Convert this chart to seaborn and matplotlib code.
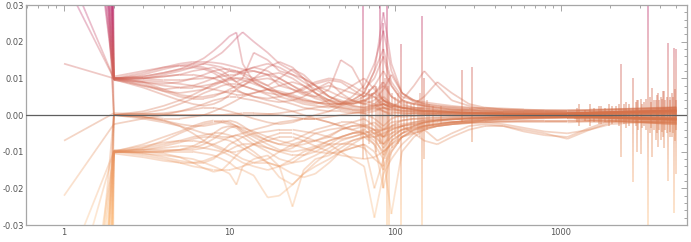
import numpy as np
import matplotlib
matplotlib.use("Agg")
import matplotlib.pyplot as plt
from matplotlib.collections import LineCollection
from matplotlib.colors import Normalize
import matplotlib.ticker as mticker
import seaborn as sns

# ---------------- data (values in units of 1e-3) ----------------
x_grid = [1, 2, 3, 4, 5, 6, 7, 8, 9, 10,
          11, 12, 14, 17, 20, 24, 28, 33, 40, 47,
          55, 65, 75, 85, 95, 110, 130, 150, 180, 220,
          280, 350, 450, 600, 800, 1100, 1500, 2000, 3000, 5000]

line_a1 = [2000, 10, 10.5, 11.5, 12.5, 14, 15.5, 17.5, 19.5, 21.5,
           22.5, 14, 9, 7, 6, 5, 4, 3.5, 3, 3,
           3.5, 5, 8, 4, 2.5, 2, 1.5, 1.2, 1, 0.8,
           0.6, 0.5, 0.4, 0.3, 0.3, 0.3, 0.4, 0.6, 0.8, 1.0]
line_a2 = [150, 9.5, 10, 11, 12, 13, 14, 15.5, 17, 19,
           21, 22.6, 20, 17, 14, 12, 10, 8, 6.5, 5,
           4, 3, 2.5, 3, 2, 1.5, 1.2, 1, 0.8, 0.7,
           0.5, 0.5, 0.4, 0.4, 0.3, 0.3, 0.5, 0.7, 0.9, 1.2]
line_a3 = [37, 10, 11.5, 13, 14, 14.5, 14.5, 14.3, 14, 13.5,
           13, 12.5, 12, 11, 10, 8, 6, 4.5, 3.5, 3,
           3, 4, 6, 4, 2.5, 2, 1.5, 1.2, 1, 0.8,
           0.6, 0.5, 0.5, 0.4, 0.4, 0.5, 0.6, 0.8, 1, 1.5]
line_a4 = [600, 9.8, 11, 12.5, 13.5, 14, 14, 13.5, 13, 12,
           11.5, 12, 13, 14, 13, 11, 9, 7, 5, 3.5,
           3, 3.5, 6, 9, 5, 3, 2, 1.5, 1.2, 1,
           0.8, 0.6, 0.5, 0.5, 0.4, 0.4, 0.5, 0.6, 0.8, 1]
line_a5 = [300, 10, 10, 10.5, 11, 12, 12.5, 13, 12, 10.5,
           9, 10, 17, 15, 12, 11, 10, 8, 5, 3.5,
           2.5, 2, 3, 5, 3, 2, 1.5, 1, 1, 0.8,
           0.6, 0.5, 0.5, 0.4, 0.4, 0.4, 0.5, 0.6, 0.8, 1]
line_a6 = [14, 10, 10, 9.5, 9.5, 9.8, 10, 10, 10.5, 11,
           11, 11.5, 12, 11, 8, 7, 6, 7, 9, 6,
           4, 3, 4, 7, 11, 6, 3.5, 2.5, 2, 1.5,
           1.2, 1, 0.8, 0.7, 0.6, 0.5, 0.6, 0.8, 1, 1.2]
line_a7 = [1000, 9.5, 9, 8.5, 9, 10, 11, 12, 12.5, 12.5,
           12, 11.5, 10, 8, 10, 12.5, 11, 8, 5, 4,
           3, 4, 5, 2, 1.5, 1.2, 1, 1, 0.8, 0.7,
           0.6, 0.5, 0.4, 0.4, 0.4, 0.4, 0.5, 0.7, 0.9, 1.2]
line_a8 = [42, 10, 8, 7, 7.5, 8, 9, 10, 11, 12,
           12, 11, 9, 7, 5, 4, 3, 2.5, 2, 3,
           5, 8, 14, 23, 12, 6, 4, 3, 2.5, 2,
           1.5, 1.2, 1, 0.8, 0.7, 0.6, 0.6, 0.8, 1, 1.3]
line_a9 = [200, 10, 8.5, 6.5, 5, 4.5, 4.5, 5, 6, 7,
           8, 9, 10, 11, 11.5, 10, 8, 6, 4, 3,
           4, 6, 5, 3, 2, 4, 8, 12, 8, 4,
           2.5, 1.5, 1.2, 1, 0.8, 0.6, 0.6, 0.8, 1, 1.2]
line_a10 = [450, 9.7, 7.5, 5.5, 4, 3, 2.5, 3, 4, 5.5,
            7, 8, 9.5, 10, 9, 7, 5.5, 5, 7, 15,
            13, 7, 10, 16, 8, 4, 3, 2.5, 2, 1.5,
            1.2, 1, 0.8, 0.7, 0.6, 0.5, 0.6, 0.7, 0.9, 1.1]
line_a11 = [120, 10.2, 9, 7, 5.5, 5, 5, 5.5, 6, 6.5,
            6.5, 6, 5, 4, 3.5, 4, 5, 7, 8, 7,
            6, 5, 8, 12, 8, 4, 3, 5, 9, 6,
            3, 2, 1.5, 1.2, 1, 0.8, 0.7, 0.8, 1, 1.3]
line_a12 = [800, 10, 9.5, 9, 8.5, 8, 7.5, 7, 6.5, 6,
            5.5, 5.5, 6, 7, 8, 9, 8, 6, 4, 2.5,
            2, 1.5, 2, 3, 2, 1, 1, 0.8, 0.7, 0.6,
            0.5, 0.4, 0.3, 0.3, 0.3, 0.3, 0.4, 0.5, 0.7, 0.9]
line_a13 = [250, 9.8, 10, 10.5, 11, 11, 10.5, 10, 9, 8,
            7.5, 8, 10, 13, 14.5, 13, 10, 6, 3, 2,
            1.5, 1.5, 2.5, 4, 3, 2, 1.5, 1, 1, 0.8,
            0.6, 0.5, 0.4, 0.4, 0.3, 0.3, 0.4, 0.6, 0.8, 1]

line_b1 = [-7, 0.5, 0.3, 0.2, 0, 0, 0, 0, 0, 0.2,
           0.3, 0.5, 0.5, 0.3, 0, -0.5, -1, -1, -0.5, 0,
           0.5, 1, 2, 1, 0, -0.5, -0.3, 0, 0.2, 0.2,
           0.1, 0.1, 0, 0, 0, 0, 0.1, 0.2, 0.3, 0.5]
line_b2 = [350, 0, 0, 0, 0, 0, 0, 0, 0, 0,
           0, 0, 0, 0.2, 0.5, 1, 1.5, 2, 2.5, 2,
           1.5, 1, 1.5, 2, 1, 0.5, 0.3, 0.2, 0.2, 0.1,
           0.1, 0.1, 0, 0, 0, 0, 0, 0.1, 0.2, 0.3]
line_b3 = [-300, 0, 0.5, 1.5, 3, 4.5, 6, 7, 8, 8.5,
           8.5, 8, 7, 5.5, 4, 3, 2, 1.5, 1, 1,
           0.5, 0.5, -1, -3, -1, 0, 0.5, 0.5, 0.4, 0.3,
           0.2, 0.2, 0.1, 0.1, 0.1, 0.1, 0.2, 0.3, 0.5, 0.7]
line_b4 = [-22, -2.5, -1, 0, 1, 2, 3, 4, 4.5, 5,
           5, 4.5, 4, 3, 2, 1, 0, -1, -2, -3,
           -2, -1, -3, -6, -3, -1.5, -1, -0.8, -0.6, -0.5,
           -0.4, -0.3, -0.3, -0.2, -0.2, -0.2, -0.3, -0.4, -0.6, -0.8]
line_b5 = [700, 0, -1, -2, -3, -4, -5, -5.5, -6, -6,
           -5.5, -5, -4, -3, -2, -1.5, -1, -1, -2, -3,
           -4, -3, -2, -4, -2, -1.5, -1, -1, -0.8, -0.6,
           -0.5, -0.4, -0.3, -0.3, -0.3, -0.3, -0.4, -0.5, -0.7, -0.9]
line_b6 = [-150, 0, -0.5, -1.5, -3, -5, -7, -8.5, -9.5, -10,
           -10, -9.5, -8, -6, -5, -5, -6, -7, -6, -4,
           -3, -2.5, -4, -8, -5, -3, -2.5, -2, -1.5, -1.2,
           -1, -0.8, -0.6, -0.5, -0.5, -0.5, -0.6, -0.7, -0.9, -1.2]
line_b7 = [-900, 0, 0.2, 0.5, 1, 1.5, 2, 2, 1.5, 1,
           0.5, 0, -1, -2, -2.5, -2, -1, 0, 1, 2.5,
           3.5, 4, 3, 1, 0.5, 0.5, 0.5, 0.3, 0.3, 0.2,
           0.2, 0.1, 0.1, 0.1, 0, 0, 0.1, 0.2, 0.3, 0.4]

line_c1 = [-2000, -10, -11, -12, -13, -14, -14.5, -15, -15, -15,
           -14.5, -14, -13, -13, -14, -16, -17, -16, -13, -10,
           -8, -6, -5, -4, -3, -2.5, -2, -1.5, -1.2, -1,
           -0.8, -0.7, -0.6, -0.5, -0.5, -0.5, -0.6, -0.7, -0.9, -1.2]
line_c2 = [-44, -10, -10, -10, -10, -10, -10.5, -11, -12, -13,
           -14.5, -15, -16.5, -22.5, -22, -19, -16, -14, -12, -10,
           -9, -8, -10, -15, -10, -6, -4, -3, -2.5, -2,
           -1.5, -1.2, -1, -0.8, -0.7, -0.6, -0.6, -0.8, -1, -1.3]
line_c3 = [-58, -10, -9.5, -9, -8.5, -8.5, -9, -9.5, -10, -11,
           -12, -13, -14, -15, -14, -12, -10, -9, -8, -8,
           -8, -9, -12, -14, -9, -6, -4, -3, -2.5, -2,
           -1.5, -1.2, -1, -0.9, -0.8, -0.7, -0.7, -0.8, -1, -1.2]
line_c4 = [-200, -9.7, -9.5, -9.5, -9.5, -9.5, -9, -8, -7, -6,
           -5.5, -6, -8, -10, -12, -13, -12.5, -11, -9, -7,
           -6, -5, -6, -8, -6, -4, -3, -2, -1.5, -1.2,
           -1, -0.8, -0.7, -0.6, -0.5, -0.5, -0.6, -0.7, -0.9, -1.1]
line_c5 = [-100, -10.2, -10, -9.8, -9.5, -9, -8, -6.5, -5, -3.5,
           -3, -3.5, -4.5, -6, -7, -8, -9, -10, -10.5, -10,
           -9, -8, -20, -12, -27, -10, -6, -4, -3, -2.5,
           -2, -1.5, -1.2, -1, -0.8, -0.7, -0.7, -0.8, -1, -1.2]
line_c6 = [-400, -10, -10, -10, -9.5, -8.5, -7, -5, -3.5, -3,
           -3.5, -5, -7, -9, -10, -9, -7, -5, -4, -3.5,
           -4, -5, -7, -10, -8, -5, -3, -2, -1.5, -1.2,
           -1, -0.8, -0.6, -0.5, -0.5, -0.5, -0.5, -0.6, -0.8, -1]
line_c7 = [-120, -9.8, -8.5, -7.5, -7, -7, -7.5, -8, -9, -10,
           -11, -12, -13, -12, -10, -8, -7, -7, -8, -10,
           -12, -14, -28, -16, -12, -8, -5, -4, -3, -2.5,
           -2, -1.5, -1.2, -1, -0.8, -0.7, -0.7, -0.8, -1, -1.3]
line_c8 = [-700, -10, -9, -8, -7, -6, -5.5, -5, -5, -5.5,
           -6.5, -8, -10, -13, -17, -19, -16, -13, -10, -8,
           -7, -6, -6, -5, -4, -3, -2.5, -2, -1.5, -1.2,
           -1, -0.8, -0.7, -0.6, -0.5, -0.5, -0.5, -0.6, -0.8, -1]
line_c9 = [-250, -9.6, -10.5, -11.5, -12.5, -13, -13, -12, -10, -8,
           -7, -6, -5, -4.5, -4, -4, -4.5, -5, -6, -6.5,
           -6, -5, -4, -4, -3.5, -3, -5, -7, -8, -6,
           -4, -3, -3, -4.5, -5.5, -6, -3.5, -1.5, -1, -1.2]
line_c10 = [-1000, -10.3, -9, -7, -5, -3.5, -2.5, -2, -2, -2.5,
            -3, -4, -5.5, -7, -8, -8.5, -8, -7, -5.5, -4,
            -3, -3, -4, -6, -4, -3, -2, -1.5, -1.2, -1,
            -0.8, -0.7, -0.6, -0.5, -0.4, -0.4, -0.5, -0.6, -0.8, -1]
line_c11 = [-180, -10, -10, -10.5, -11.5, -13, -14.5, -15.5, -15, -13,
            -11, -9.5, -8, -7, -6, -6, -7, -8.5, -10, -11,
            -11.5, -12, -11.5, -10, -8, -6, -5, -4, -7, -5,
            -3, -2.5, -3, -4, -5, -6.5, -4, -2, -1.2, -1.5]
line_c12 = [-500, -9.9, -10.5, -11, -11.5, -12, -13, -14, -15, -16,
            -19, -14, -12, -11, -14, -25, -15, -12, -11, -9,
            -7, -6, -8, -12, -7, -5, -3.5, -3, -2.5, -2,
            -1.5, -1.2, -1, -0.8, -0.7, -0.6, -0.6, -0.7, -0.9, -1.1]

line_d1 = [180, 10, 9, 8, 7.5, 7.5, 8, 8.5, 9, 9.5,
           10, 10, 9.5, 8, 6, 4.5, 3.5, 3, 4, 6,
           8, 10, 7, 4, 3, 2.5, 2, 2, 1.5, 1.5,
           1.5, 1.2, 1, 1, 1, 1, 1.2, 1.4, 1.6, 2]
line_d2 = [500, 9.6, 8, 6.5, 6, 6.5, 7, 8, 9, 10,
           11, 12, 13, 12, 10, 8, 6.5, 5, 4, 3.5,
           4, 6, 12, 18, 9, 5, 4, 3.5, 3, 2.5,
           2, 2, 1.8, 1.5, 1.3, 1.2, 1.3, 1.5, 1.8, 2.2]
line_d3 = [-350, 0, 1, 2.5, 4, 5.5, 7, 8.5, 9.5, 10,
           10, 9.5, 8.5, 7, 6, 5, 4, 3.5, 3, 3,
           2.5, 2, 2.5, 3, 2.5, 2, 2, 1.8, 1.5, 1.2,
           1, 0.8, 0.7, 0.7, 0.7, 0.7, 0.8, 1, 1.2, 1.5]
line_d4 = [-600, 0, -0.5, -1, -1, -0.5, 0, 1, 2, 3,
           4, 5, 6, 7, 6.5, 5.5, 4.5, 3.5, 2.5, 1.5,
           1, 0.5, 1, 2, 1.5, 1, 0.8, 0.6, 0.5, 0.5,
           0.4, 0.3, 0.3, 0.2, 0.2, 0.2, 0.3, 0.4, 0.5, 0.7]
line_d5 = [260, 0, -0.5, -1.5, -2.5, -3, -3, -2.5, -2, -1.5,
           -2, -3, -5, -7, -8, -7, -5.5, -4, -3, -2,
           -2, -3, -5, -9, -6, -4, -3, -2.5, -2, -2,
           -1.8, -1.5, -1.5, -1.5, -1.5, -1.5, -1.5, -1.6, -1.8, -2]
line_d6 = [-220, -10, -8, -6, -4.5, -3, -2, -1.5, -1.5, -2,
           -3, -4.5, -6, -8, -9.5, -10, -9.5, -8.5, -7, -6,
           -5, -4, -6, -11, -7, -5, -4, -3.5, -3, -2.5,
           -2.2, -2, -2, -2, -2, -2, -1.8, -1.8, -2, -2.2]
line_d7 = [-140, -10, -9.5, -8.5, -7.5, -6.5, -6, -6, -6.5, -7,
           -8, -9, -11, -13, -14, -13, -11, -9, -7, -6,
           -5, -5, -8, -20, -10, -6, -4.5, -3.5, -3, -2.5,
           -2.2, -2, -1.8, -1.6, -1.5, -1.5, -1.6, -1.8, -2, -2.5]
line_d8 = [-800, -10.5, -11.5, -12.5, -13, -13, -12.5, -11.5, -10.5, -9.5,
           -8.5, -8, -8, -9, -10, -11, -11, -10, -8, -6,
           -5, -4.5, -5, -6, -5, -4, -3.5, -3, -2.5, -2,
           -2, -2, -2.5, -3.5, -4.5, -5, -4, -2.5, -2, -2]
line_d9 = [1500, 10.5, 12, 13, 13.5, 13.5, 13, 12, 11, 10,
           9, 8, 7, 6, 5.5, 6, 7, 8.5, 9.5, 9,
           7, 5, 6, 8, 5, 3.5, 3, 2.5, 2, 1.8,
           1.6, 1.5, 1.4, 1.3, 1.2, 1.2, 1.3, 1.5, 1.7, 2]
line_d10 = [130, 10, 10.5, 11.5, 12.5, 13, 12.5, 11.5, 10, 8.5,
            7, 6, 5, 4.5, 5, 6, 7.5, 9, 10, 9.5,
            8, 6, 12, 28, 14, 6, 4, 3, 2.5, 2.2,
            2, 1.8, 1.6, 1.5, 1.5, 1.5, 1.5, 1.6, 1.8, 2]

all_lines = [line_a1, line_a2, line_a3, line_a4, line_a5, line_a6, line_a7,
             line_a8, line_a9, line_a10, line_a11, line_a12, line_a13,
             line_b1, line_b2, line_b3, line_b4, line_b5, line_b6, line_b7,
             line_c1, line_c2, line_c3, line_c4, line_c5, line_c6, line_c7,
             line_c8, line_c9, line_c10, line_c11, line_c12,
             line_d1, line_d2, line_d3, line_d4, line_d5, line_d6, line_d7,
             line_d8, line_d9, line_d10]

# sharp excursions (x, low, high), units of 1e-3
spike_x = [64, 81, 84, 89, 92, 108, 146, 150, 254, 290, 1300, 1700,
           2330, 2750, 2900, 3050, 3380, 3550, 3750, 3900, 4050, 4200,
           4450, 4600, 4850, 4950]
spike_lo = [-12, -8, -20, -30, -40, -40, -40, -12, -2, -7.3, -3, -2.5,
            -11.5, -18.2, -10, -10.5, -45, -11.5, -6.8, -8.6, -6.8, -9,
            -18, -6, -26.8, -16]
spike_hi = [45, 45, 25, 45, 10, 19.5, 27, 10, 12.3, 13, 3, 2.5,
            13.9, 10, 4, 4.4, 45, 7.3, 4, 6, 5, 6.5,
            19.6, 4, 18.2, 18]

mid_noise_x = [62, 66, 70, 73, 77, 79, 83, 87, 91, 96, 100, 104,
               113, 118, 124, 130, 138, 142, 155, 160, 170, 190]
mid_noise_lo = [-6, -4, -8, -5, -10, -6, -8, -12, -7, -9, -6, -8,
                -5, -4, -4, -3, -5, -6, -4, -3, -3, -2.5]
mid_noise_hi = [5, 4, 7, 6, 8, 5, 9, 10, 8, 6, 5, 6,
                4, 3.5, 3, 3, 4, 6, 4, 3, 2.5, 2.5]

tail_noise_x = [1250, 1400, 1500, 1600, 1750, 1850, 1950, 2050, 2150, 2250,
                2400, 2500, 2600, 2850, 2950, 3100, 3200, 3300, 3450, 3500,
                3650, 3800, 3950, 4100, 4150, 4300, 4400, 4550, 4700, 4800,
                4900, 5000]
tail_noise_lo = [-2, -1.5, -3, -2, -2.5, -2, -3, -2.5, -2, -3,
                 -2.5, -3.5, -3, -3, -4, -3.5, -3, -4, -5, -3.5,
                 -4, -5, -4, -4.5, -6, -4, -5, -4.5, -6, -5,
                 -7, -4]
tail_noise_hi = [2, 1.5, 3, 2, 2.5, 2, 3, 2.5, 2.5, 3,
                 3, 3.5, 3, 3.5, 4, 3, 3.5, 4.5, 5, 3.5,
                 4, 5.5, 4, 4.5, 6.5, 4, 5, 5, 6, 5,
                 7, 4]

band_x = [1200, 1500, 2000, 2500, 3000, 3500, 4000, 4500, 5000]
band_lo = [-1.0, -1.5, -1.6, -1.8, -2.0, -2.2, -2.4, -2.5, -2.5]
band_hi = [0.8, 1.2, 1.3, 1.5, 1.6, 1.8, 2.0, 2.2, 2.2]

y_ticks = [-0.03, -0.02, -0.01, 0.0, 0.01, 0.02, 0.03]
x_ticks = [1, 10, 100, 1000]
x_tick_labels = ["1", "10", "100", "1000"]

# ---------------- style ----------------
sns.set_style("white")
plt.rcParams['font.family'] = ['DejaVu Sans']

cmap = sns.blend_palette(['#fdbf80', '#efa06a', '#d6744a', '#cf5c5c', '#bd2d6f'],
                         as_cmap=True)
norm = Normalize(vmin=-0.03, vmax=0.03)
SCALE = 1e-3


def gradient_segments(xs, ys, lim=0.034, step=0.0012):
    segs, mids = [], []
    lx = np.log10(np.asarray(xs, dtype=float))
    ys = np.asarray(ys, dtype=float)
    for i in range(len(lx) - 1):
        x0, x1, y0, y1 = lx[i], lx[i + 1], ys[i], ys[i + 1]
        if y0 == y1:
            if abs(y0) > lim:
                continue
            t0, t1 = 0.0, 1.0
        else:
            ta = (-lim - y0) / (y1 - y0)
            tb = (lim - y0) / (y1 - y0)
            t0 = max(0.0, min(ta, tb))
            t1 = min(1.0, max(ta, tb))
            if t0 >= t1:
                continue
        ya, yb = y0 + t0 * (y1 - y0), y0 + t1 * (y1 - y0)
        n = max(1, int(np.ceil(abs(yb - ya) / step)))
        ts = np.linspace(t0, t1, n + 1)
        px = 10 ** (x0 + ts * (x1 - x0))
        py = y0 + ts * (y1 - y0)
        for k in range(n):
            segs.append([(px[k], py[k]), (px[k + 1], py[k + 1])])
            mids.append(0.5 * (py[k] + py[k + 1]))
    return segs, mids


fig = plt.figure(figsize=(6.91, 2.42), dpi=100)
ax = fig.add_axes([0.0376, 0.0702, 0.9566, 0.9091])
ax.set_xscale('log')

alpha = 0.34
lw = 1.25

ax.fill_between(band_x, [v * SCALE for v in band_lo], [v * SCALE for v in band_hi],
                color='#dc8059', alpha=0.55, lw=0, zorder=1)

for ln in all_lines:
    segs, mids = gradient_segments(x_grid, [v * SCALE for v in ln])
    cols = cmap(norm(np.array(mids)))
    cols[:, 3] = alpha
    ax.add_collection(LineCollection(segs, colors=cols, linewidths=lw,
                                     capstyle='butt', zorder=2))

for xs_, lo_, hi_, a_ in [(spike_x, spike_lo, spike_hi, alpha + 0.1),
                          (mid_noise_x, mid_noise_lo, mid_noise_hi, alpha),
                          (tail_noise_x, tail_noise_lo, tail_noise_hi, alpha + 0.1)]:
    for sx, lo, hi in zip(xs_, lo_, hi_):
        segs, mids = gradient_segments([sx, sx], [lo * SCALE, hi * SCALE])
        cols = cmap(norm(np.array(mids)))
        cols[:, 3] = a_
        ax.add_collection(LineCollection(segs, colors=cols, linewidths=lw,
                                         capstyle='butt', zorder=2))

ax.axhline(0, color='#5f5f5f', lw=0.9, zorder=4)

ax.set_xlim(0.589, 5800)
ax.set_ylim(-0.03, 0.03)

ax.set_yticks(y_ticks)
ax.set_yticklabels([f"{v:.2f}" for v in y_ticks])
ax.yaxis.set_minor_locator(mticker.MultipleLocator(0.002))
ax.set_xticks(x_ticks)
ax.set_xticklabels(x_tick_labels)
ax.xaxis.set_minor_locator(mticker.LogLocator(base=10, subs=np.arange(2, 10)))
ax.xaxis.set_minor_formatter(mticker.NullFormatter())

frame_col = '#a6a6a6'
for sp in ax.spines.values():
    sp.set_color(frame_col)
    sp.set_linewidth(0.9)
ax.tick_params(which='both', direction='in', top=True, right=True,
               color=frame_col, width=0.7, labelsize=6, labelcolor='#555555')
ax.tick_params(which='major', length=4, pad=2)
ax.tick_params(axis='y', which='major', pad=1.5)
ax.tick_params(which='minor', length=2)

fig.savefig('out.png', dpi=100)
